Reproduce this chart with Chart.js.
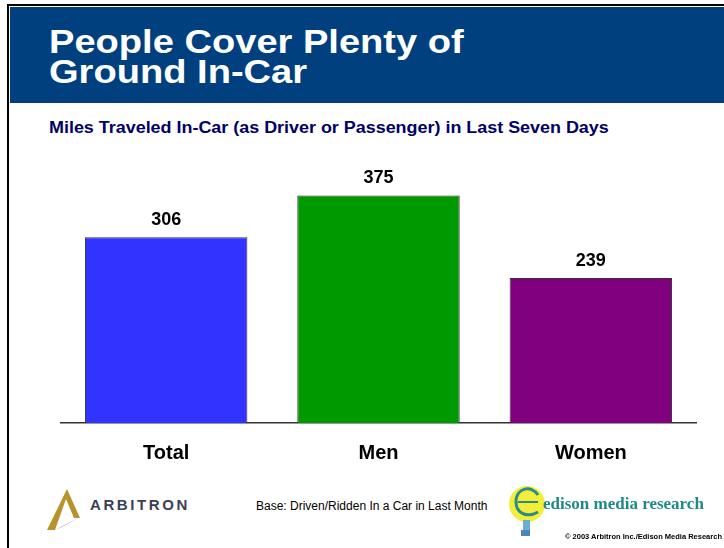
<!DOCTYPE html>
<html>
<head>
<meta charset="utf-8">
<script src="https://cdn.jsdelivr.net/npm/chart.js@4.4.1/dist/chart.umd.min.js"></script>
<style>
  html, body { margin: 0; padding: 0; background: #fff; }
  body { width: 724px; height: 548px; position: relative; overflow: hidden; font-family: "Liberation Sans", Arial, sans-serif; }
  .frame { position: absolute; left: 7px; top: 4px; width: 730px; height: 560px; border-left: 2px solid #000; border-top: 2px solid #000; }
  .header { position: absolute; left: 10px; top: 7px; width: 714px; height: 96px; background: #00407f; }
  .title { position: absolute; left: 49px; top: 26px; color: #fff; font-weight: bold; font-size: 34px; line-height: 30px; transform: scaleX(1.12); transform-origin: left top; white-space: nowrap; }
  .subtitle { position: absolute; left: 49px; top: 119px; color: #000066; font-weight: bold; font-size: 16px; transform: scaleX(1.12); transform-origin: left top; white-space: nowrap; }
  .chartBox { position: absolute; left: 60px; top: 150px; width: 637px; height: 333px; }
  .base { position: absolute; left: 256px; top: 499px; font-size: 12px; color: #000; }
  .arbitron { position: absolute; left: 90px; top: 496px; font-size: 15px; font-weight: bold; letter-spacing: 2.6px; color: #3a3f55; }
  .logoA { position: absolute; left: 46px; top: 488px; }
  .edison { position: absolute; left: 543px; top: 494px; font-family: "Liberation Serif", "DejaVu Serif", serif; font-weight: bold; font-size: 17px; color: #1d8a86; }
  .logoE { position: absolute; left: 507px; top: 482px; }
  .copy { position: absolute; left: 565px; top: 532px; font-size: 7.5px; font-weight: bold; color: #000; white-space: nowrap; }
</style>
</head>
<body>
<div class="frame"></div>
<div class="header"></div>
<div class="title">People Cover Plenty of<br>Ground In-Car</div>
<div class="subtitle">Miles Traveled In-Car (as Driver or Passenger) in Last Seven Days</div>

<div class="chartBox"><canvas id="milesChart"></canvas></div>

<svg class="logoA" width="46" height="44" viewBox="0 0 46 44">
  <polygon points="1,42 21,1 34,30 28,30 20,11 9,42" fill="#b8922a"/>
  <polygon points="9,42 38,27 16,39" fill="#9a9fc0"/>
</svg>
<div class="arbitron">ARBITRON</div>
<div class="base">Base: Driven/Ridden In a Car in Last Month</div>
<svg class="logoE" width="40" height="58" viewBox="0 0 40 58">
  <ellipse cx="20" cy="22" rx="18" ry="18" fill="#f4ee3a"/>
  <path d="M31,13 C25,3 9,5 9,20 C9,32 21,36 31,30" fill="none" stroke="#2a8c88" stroke-width="3"/>
  <path d="M11,20 L31,20" stroke="#2a8c88" stroke-width="2"/>
  <rect x="16" y="38" width="7" height="12" fill="#6aaed6"/>
  <rect x="14" y="48" width="9" height="6" fill="#4a86b8"/>
</svg>
<div class="edison">edison media research</div>
<div class="copy">© 2003 Arbitron Inc./Edison Media Research</div>

<script>
// Chart data
const categories = ["Total", "Men", "Women"];
const milesValues = [306, 375, 239];
const barColors = ["#3333ff", "#009900", "#800080"];

// Value labels above each bar
const valueLabels = {
    id: "valueLabels",
    afterDatasetsDraw(chart) {
        const ctx = chart.ctx;
        const meta = chart.getDatasetMeta(0);
        ctx.save();
        ctx.font = "bold 18px 'Liberation Sans', Arial, sans-serif";
        ctx.fillStyle = "#000";
        ctx.textAlign = "center";
        ctx.textBaseline = "bottom";
        meta.data.forEach((bar, i) => {
            ctx.fillText(milesValues[i], bar.x, bar.y - 8);
        });
        ctx.restore();
    }
};

const ctx = document.getElementById("milesChart").getContext("2d");
new Chart(ctx, {
    type: "bar",
    data: {
        labels: categories,
        datasets: [
            {
                data: milesValues,
                backgroundColor: barColors,
                borderColor: "#333333",
                borderWidth: 1,
                borderSkipped: "bottom",
                barPercentage: 0.765,
                categoryPercentage: 1.0
            }
        ]
    },
    options: {
        responsive: true,
        maintainAspectRatio: false,
        animation: false,
        layout: { padding: 0 },
        plugins: {
            legend: { display: false },
            tooltip: { enabled: false }
        },
        scales: {
            y: {
                display: false,
                min: 0,
                max: 450
            },
            x: {
                grid: { display: false, drawTicks: false },
                border: { display: true, color: "#333333", width: 1.5 },
                ticks: {
                    padding: 18,
                    color: "#000",
                    font: { family: "'Liberation Sans', Arial, sans-serif", size: 20, weight: "bold" }
                }
            }
        }
    },
    plugins: [valueLabels]
});
</script>
</body>
</html>
